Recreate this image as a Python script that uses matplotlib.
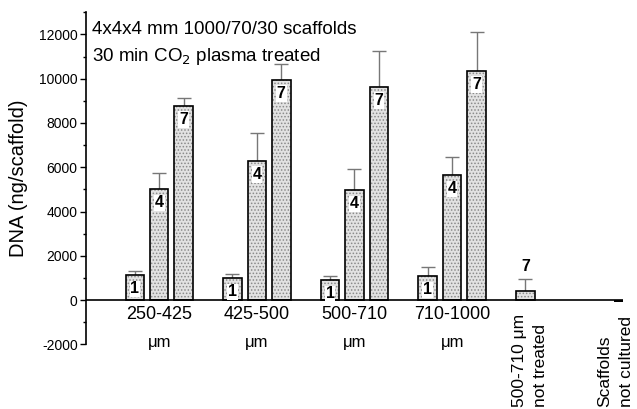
import matplotlib
matplotlib.use('Agg')
import matplotlib.pyplot as plt
import matplotlib.transforms as mtransforms
import numpy as np

plt.rcParams['font.family'] = ['Liberation Sans', 'DejaVu Sans']
plt.rcParams['hatch.linewidth'] = 0.7
plt.rcParams['axes.unicode_minus'] = False

# data
groups = ['250-425', '425-500', '500-710', '710-1000']
day_labels = ['1', '4', '7']
day1 = [1130, 995, 905, 1085]
day1_err = [180, 180, 180, 410]
day4 = [5020, 6290, 4975, 5650]
day4_err = [720, 1260, 950, 815]
day7 = [8780, 9950, 9630, 10360]
day7_err = [350, 720, 1630, 1760]
untreated = 410
untreated_err = 540
uncultured = -80

fig = plt.figure(figsize=(6.37, 4.09), dpi=100)
ax = fig.add_axes([0.135, 0.158, 0.843, 0.812])

centers = np.arange(len(groups)) * 4
w = 0.76
series = [(day1, day1_err), (day4, day4_err), (day7, day7_err)]
face = '#e2e2e2'
dots = '#8a8a8a'

for k, (vals, errs) in enumerate(series):
    xs = centers + (k - 1)
    # stipple fill, then black outline
    ax.bar(xs, vals, w, color=face, hatch='.....', edgecolor=dots, linewidth=0, zorder=2)
    ax.bar(xs, vals, w, fill=False, edgecolor='black', linewidth=1.2, zorder=3)
    ax.errorbar(xs, vals, yerr=[np.zeros(len(vals)), errs], fmt='none', ecolor='#777777',
                elinewidth=1, capsize=5, capthick=1, zorder=1)
    for x, v in zip(xs, vals):
        ax.annotate(day_labels[k], (x, v), xytext=(0, -10), textcoords='offset points',
                    ha='center', va='center', fontsize=11.5, fontweight='bold', zorder=4,
                    bbox=dict(boxstyle='square,pad=0.05', fc='white', ec='none'))

# untreated scaffold, day 7
xu = centers[-1] + 3
ax.bar(xu, untreated, w, color=face, hatch='.....', edgecolor=dots, linewidth=0, zorder=2)
ax.bar(xu, untreated, w, fill=False, edgecolor='black', linewidth=1.2, zorder=3)
ax.errorbar(xu, untreated, yerr=[[0], [untreated_err]], fmt='none', ecolor='#777777',
            elinewidth=1, capsize=5, capthick=1, zorder=1)
ax.annotate('7', (xu, untreated + untreated_err), xytext=(0, 4), textcoords='offset points',
            ha='center', va='bottom', fontsize=11.5, fontweight='bold')

# not cultured scaffold
xn = centers[-1] + 7
ax.bar(xn, uncultured, w, color='black', zorder=2)

ax.axhline(0, color='black', lw=1.2, zorder=3)

ax.set_xlim(-3, 19)
ax.set_ylim(-2000, 13000)
ax.set_yticks(np.arange(-2000, 12001, 2000))
ax.set_yticks(np.arange(-2000, 13001, 1000), minor=True)
ax.tick_params(axis='y', which='major', length=4, width=1, labelsize=10, pad=2)
ax.tick_params(axis='y', which='minor', length=2, width=1)
ax.set_xticks([])
for s in ['top', 'right', 'bottom']:
    ax.spines[s].set_visible(False)
ax.spines['left'].set_linewidth(1.2)

ax.set_ylabel('DNA (ng/scaffold)', fontsize=14.5, labelpad=8)

ax.text(0.012, 0.975, '4x4x4 mm 1000/70/30 scaffolds', transform=ax.transAxes,
        fontsize=13.5, va='top', ha='left')
ax.text(0.012, 0.898, '30 min CO$_2$ plasma treated', transform=ax.transAxes,
        fontsize=13.5, va='top', ha='left')

trans = mtransforms.blended_transform_factory(ax.transData, fig.transFigure)
for c, g in zip(centers, groups):
    ax.text(c, 0.230, g, transform=trans, ha='center', va='center', fontsize=13, clip_on=False)
    ax.text(c, 0.163, 'μm', transform=trans, ha='center', va='center', fontsize=12, clip_on=False)

ax.text(xu + 0.2, 0.005, '500-710 μm\nnot treated', transform=trans, rotation=90,
        ha='center', va='bottom', multialignment='left', fontsize=12.5, clip_on=False,
        linespacing=1.5)
ax.text(xn - 0.3, 0.005, 'Scaffolds\nnot cultured', transform=trans, rotation=90,
        ha='center', va='bottom', multialignment='left', fontsize=12.5, clip_on=False,
        linespacing=1.5)

fig.savefig('out.png', dpi=100)
